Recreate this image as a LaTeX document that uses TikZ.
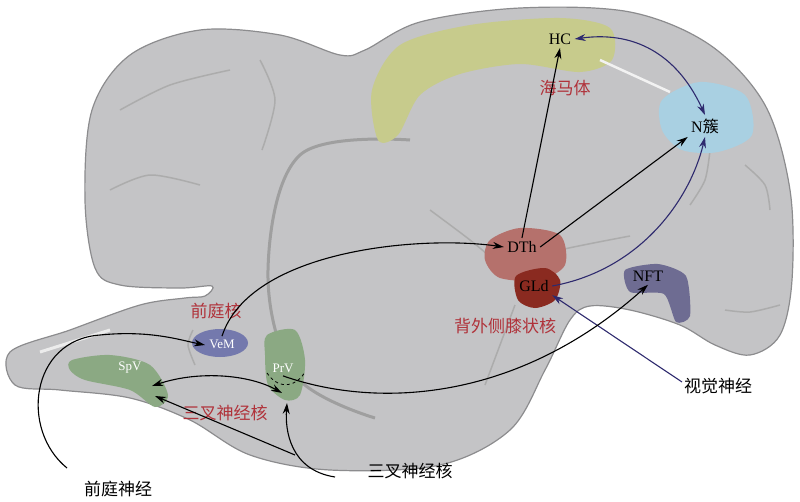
\documentclass[tikz,border=0pt]{standalone}
\usepackage{fontspec}
\setmainfont{Liberation Serif}
\newfontfamily\cjk{Noto Sans CJK SC}
\usetikzlibrary{arrows.meta}
\definecolor{brain}{HTML}{C4C4C6}
\definecolor{rim}{HTML}{8C8C8E}
\definecolor{navy}{HTML}{2E2A6E}
\definecolor{redtxt}{HTML}{B0323A}
\definecolor{hcband}{HTML}{C7CB8C}
\definecolor{nclust}{HTML}{A9D0E2}
\definecolor{dthc}{HTML}{B5716C}
\definecolor{gldc}{HTML}{8A2A20}
\definecolor{nftc}{HTML}{6E6C92}
\definecolor{vemc}{HTML}{7479AD}
\definecolor{grn}{HTML}{8BA983}
\begin{document}
\begin{tikzpicture}[x=1pt,y=-1pt,
  lab/.style={font=\fontsize{16}{16}\selectfont},
  wlab/.style={font=\fontsize{13}{13}\selectfont,text=white},
  red/.style={font=\cjk\fontsize{17}{17}\selectfont,text=redtxt},
  blk/.style={font=\cjk\fontsize{17}{17}\selectfont},
  arr/.style={-{Stealth[length=11pt,width=7pt]},line width=1.1pt},
  narr/.style={arr,navy}]
 \useasboundingbox (0,0) rectangle (800,501);
   %BRAIN
    \draw[rim,fill=brain,line width=1.2pt] plot[smooth cycle,tension=0.55] coordinates {
      (10,352) (70,330) (140,305) (185,298) (205,296) (212,286) (180,288) (120,285)
      (95,268) (85,200) (92,110) (130,55) (200,30) (280,35) (340,55) (365,50)
      (420,22) (520,8) (630,12) (710,45) (765,105) (790,190) (792,280) (780,335)
      (750,355) (715,345) (680,325) (630,310) (590,306) (570,320) (545,370)
      (510,430) (440,465) (330,470) (250,455) (190,420) (130,398) (60,390) (15,385)};
    \draw[gray!75,line width=3pt] plot[smooth,tension=0.6] coordinates {(410,140) (300,155) (268,270) (295,375) (375,418)};
    \draw[gray!65,line width=1.5pt] plot[smooth] coordinates {(120,110) (170,85) (230,70)};
    \draw[gray!65,line width=1.5pt] plot[smooth] coordinates {(260,60) (275,100) (262,150)};
    \draw[gray!65,line width=1.5pt] plot[smooth] coordinates {(110,190) (150,175) (200,185)};
    \draw[gray!65,line width=1.5pt] plot[smooth] coordinates {(430,210) (470,240) (500,265)};
    \draw[gray!65,line width=1.5pt] plot[smooth] coordinates {(510,265) (560,250) (630,236)};
    \draw[gray!65,line width=1.5pt] plot[smooth] coordinates {(710,150) (705,180) (690,205)};
    \draw[gray!65,line width=1.5pt] plot[smooth] coordinates {(745,165) (765,185) (770,210)};
    \draw[gray!65,line width=1.5pt] plot[smooth] coordinates {(725,310) (750,312) (780,305)};
    \draw[gray!65,line width=1.5pt] plot[smooth] coordinates {(515,305) (500,345) (485,385)};
    \draw[gray!65,line width=1.5pt] plot[smooth] coordinates {(193,330) (188,345) (195,365)};
    \draw[white!85!gray,line width=3pt] (40,352) -- (110,330);
   %REGIONS
    \fill[hcband] plot[smooth cycle] coordinates {(372,90) (400,45) (470,25) (560,18) (610,28) (612,60) (580,72) (520,64) (460,74) (420,95) (398,135) (378,140)};
    \fill[nclust] plot[smooth cycle] coordinates {(662,100) (700,82) (745,95) (752,135) (718,152) (682,150) (662,130)};
    \draw[white!90!gray,line width=2.5pt] (600,60) -- (670,92);
    \fill[dthc] plot[smooth cycle] coordinates {(490,240) (520,228) (560,235) (565,265) (540,280) (500,278) (485,260)};
    \fill[gldc] plot[smooth cycle] coordinates {(516,276) (545,268) (560,280) (555,300) (535,308) (518,300)};
    \fill[nftc] plot[smooth cycle,tension=0.4] coordinates {(625,270) (658,264) (686,276) (690,316) (676,322) (664,294) (630,292)};
    \fill[vemc] (220,343) ellipse (28 and 14);
    \fill[grn] plot[smooth cycle] coordinates {(72,360) (110,355) (150,365) (168,395) (155,407) (130,390) (85,380) (70,370)};
    \fill[grn] plot[smooth cycle] coordinates {(267,335) (295,330) (305,360) (300,395) (285,400) (268,385) (265,355)};
    \draw[dashed,thick] (267,373) .. controls (280,392) and (298,385) .. (305,372);
   %LABELS
    \node[lab] (hc) at (560,39) {HC};
    \node[red] (hcz) at (565,88) {海马体};
    \node[lab] (n) at (705,126) {N\cjk 簇};
    \node[lab] (dth) at (522,247) {DTh};
    \node[lab] (gld) at (534,286) {GLd};
    \node[red] (glz) at (505,326) {背外侧膝状核};
    \node[lab] (nft) at (648,276) {NFT};
    \node[wlab] (vem) at (222,344) {VeM};
    \node[red] (vez) at (216,311) {前庭核};
    \node[wlab] (spv) at (130,368) {SpV};
    \node[wlab] (prv) at (283,368) {PrV};
    \node[red] (tgz) at (225,413) {三叉神经核};
    \node[blk] (opt) at (718,386) {视觉神经};
    \node[blk] (tgn) at (410,471) {三叉神经核};
    \node[blk] (ven) at (118,489) {前庭神经};
    \coordinate (optend) at (682,382);
    \coordinate (tgnend) at (335,477);
    \coordinate (tgmid) at (295,455);
    \coordinate (venend) at (67,468);
   %CONNECTORS
    \draw[arr] (dth.north) -- (hc.south);
    \draw[arr] (dth.east) -- (n.south west);
    \draw[narr,{Stealth[length=11pt,width=7pt]}-{Stealth[length=11pt,width=7pt]}] (hc.east) .. controls (640,30) and (680,60) .. (n.north);
    \draw[narr] (gld.east) .. controls (640,270) and (690,200) .. (n.south);
    \draw[narr] (optend) -- (gld.south east);
    \draw[arr] (vem.north) .. controls (250,250) and (420,235) .. (dth.west);
    \draw[arr] (prv.south) .. controls (380,410) and (520,400) .. (nft.south);
    \draw[arr,{Stealth[length=11pt,width=7pt]}-{Stealth[length=11pt,width=7pt]}] (152,386) .. controls (200,370) and (250,375) .. (282,393);
    \draw[arr] (tgmid) -- (155,396);
    \draw[arr] (tgnend) .. controls (290,470) and (285,430) .. (287,403);
    \draw[arr] (venend) .. controls (20,430) and (30,340) .. (100,335) .. controls (150,330) and (180,340) .. (205,345);
 \end{tikzpicture}
\end{document}
